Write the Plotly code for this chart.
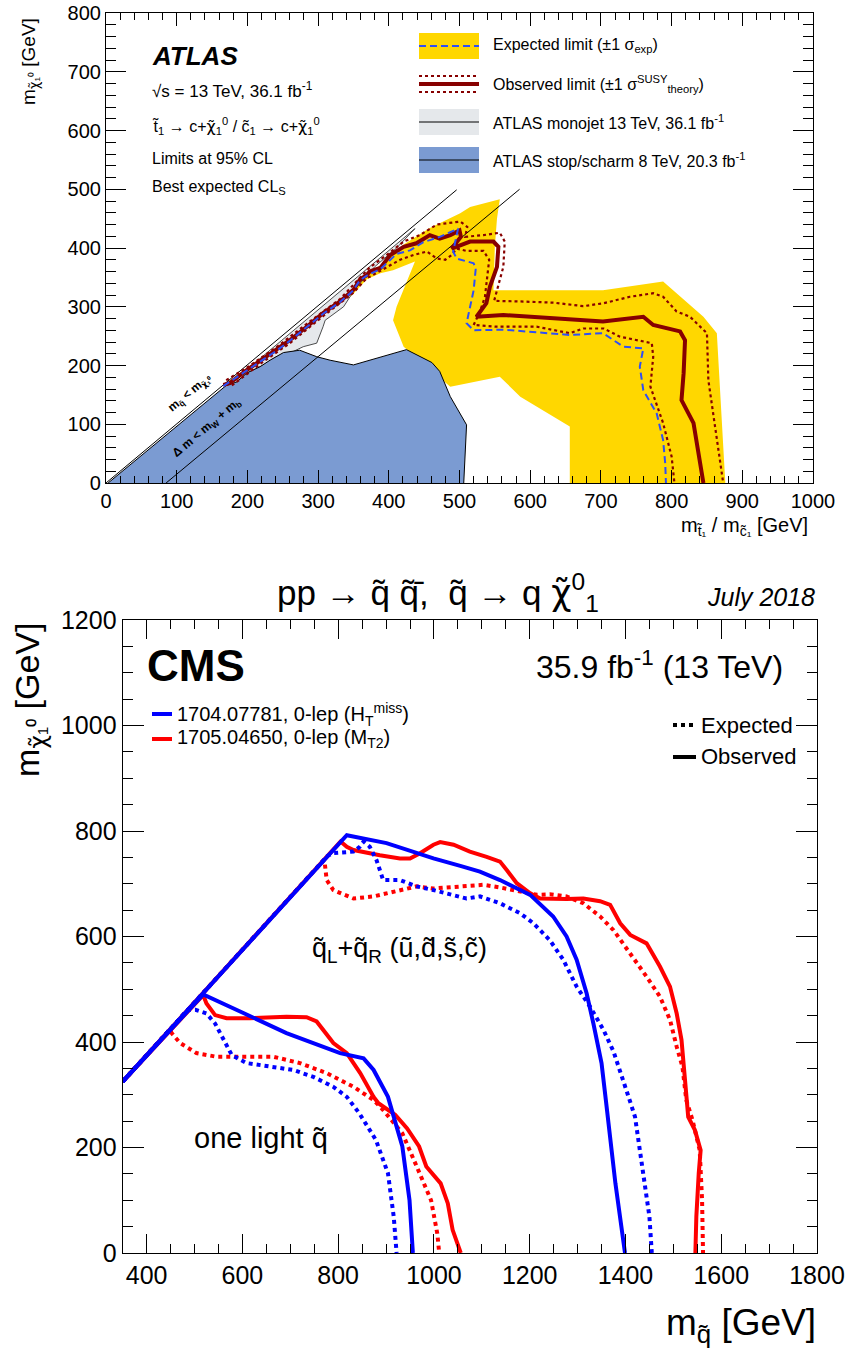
import plotly.graph_objects as go

W, H = 850, 1353
FONT = "Liberation Sans, Arial, Helvetica, sans-serif"
CHI = '<span style="font-family:DejaVu Sans">χ̃</span>'

# ---------------- ATLAS stop/scharm panel (GeV) ----------------
band_x = [656, 656, 586, 557, 487, 421, 406, 411, 437, 406, 388, 369, 350, 331, 307, 284, 260, 241, 223, 199, 170,
          170, 199, 223, 241, 260, 284, 307, 331, 350, 365, 388, 411, 421, 458, 501, 515, 557, 553, 550, 548, 609,
          703, 788, 845, 864, 871, 876]
band_y = [0, 96, 147, 181, 164, 232, 277, 300, 377, 362, 357, 347, 322, 302, 282, 260, 237, 220, 206, 186, 162,
          170, 196, 216, 230, 247, 270, 293, 313, 334, 354, 370, 396, 406, 434, 459, 470, 483, 450, 402, 328, 328,
          328, 343, 283, 255, 118, 0]

monojet_x = [8, 437, 411, 380, 355, 350, 336, 310, 307, 298, 279, 260, 241, 223, 199, 185, 100]
monojet_y = [0, 433, 400, 368, 334, 326, 300, 277, 266, 238, 232, 221, 215, 201, 187, 172, 0]

stop8_x = [3, 170, 185, 199, 218, 232, 251, 274, 298, 317, 350, 425, 461, 472, 487, 510, 506]
stop8_y = [0, 166, 172, 187, 198, 209, 222, 226, 215, 209, 201, 227, 205, 190, 147, 99, 0]

kin_x = [0, 496]
kin_y = [0, 499]
wb_x = [85, 585]
wb_y = [0, 500]

exp_x = [166, 199, 223, 241, 260, 284, 307, 331, 350, 359, 369, 388, 411, 430, 449, 472, 498, 491, 496, 520,
         523, 520, 515, 510, 520, 562, 656, 703, 718, 732, 760, 755, 760, 779, 788, 791, 792]
exp_y = [165, 191, 211, 225, 242, 265, 288, 308, 328, 345, 353, 364, 390, 396, 410, 419, 433, 394, 382, 374,
         365, 328, 300, 272, 260, 261, 252, 255, 243, 232, 229, 198, 158, 118, 73, 33, 0]

obs_x = [166, 175, 199, 223, 241, 260, 284, 307, 331, 350, 359, 369, 373, 388, 402, 421, 439, 458, 472, 487,
         500, 502, 489, 501, 515, 548, 555, 553, 543, 538, 527, 524, 562, 633, 703, 760, 774, 812, 819, 817,
         814, 831, 840, 845]
obs_y = [167, 170, 192, 212, 226, 243, 266, 289, 309, 329, 346, 354, 360, 366, 388, 402, 408, 422, 416, 422,
         430, 419, 399, 405, 411, 411, 402, 368, 334, 306, 289, 283, 286, 280, 275, 283, 269, 258, 243, 187,
         141, 102, 33, 0]

obs_up_x = [170, 200, 241, 284, 331, 360, 373, 397, 421, 444, 468, 501, 511, 508, 534, 557, 564, 562, 557,
            553, 549, 586, 633, 675, 704, 741, 774, 788, 807, 826, 850, 852, 859, 866, 873]
obs_up_y = [175, 197, 231, 271, 313, 350, 367, 388, 411, 422, 440, 445, 436, 419, 422, 426, 411, 368, 346,
            329, 310, 309, 307, 301, 306, 317, 323, 317, 292, 283, 255, 175, 119, 62, 0]

obs_dn_x = [178, 223, 260, 307, 350, 369, 373, 397, 416, 435, 454, 468, 480, 489, 496, 510, 534, 542, 539,
            536, 529, 520, 553, 609, 656, 675, 704, 727, 772, 774, 770, 788, 800, 804]
obs_dn_y = [166, 207, 238, 284, 324, 349, 351, 367, 380, 388, 394, 382, 380, 388, 399, 395, 395, 380, 346,
            317, 292, 269, 266, 266, 255, 263, 263, 249, 238, 215, 164, 102, 45, 0]

# ---------------- CMS squark panel (GeV) ----------------
b_obs_lo_x = [350, 518, 602, 692, 804, 853, 874, 904, 934, 949, 956]
b_obs_lo_y = [325, 490, 455, 417, 379, 369, 347, 296, 202, 100, 0]
b_exp_lo_x = [350, 486, 502, 525, 543, 560, 578, 609, 665, 706, 748, 790, 818, 844, 879, 904, 916, 922]
b_exp_lo_y = [325, 461, 461, 454, 435, 404, 375, 360, 353, 347, 334, 315, 296, 265, 214, 151, 69, 0]
r_obs_lo_x = [350, 518, 525, 543, 567, 616, 692, 734, 755, 790, 818, 846, 874, 884, 919, 944, 969, 984, 1014,
              1029, 1039, 1056]
r_obs_lo_y = [325, 489, 473, 451, 445, 445, 448, 447, 439, 398, 379, 341, 296, 284, 262, 236, 202, 164, 132,
              94, 44, 0]
r_exp_lo_x = [350, 448, 453, 470, 504, 546, 602, 665, 720, 776, 832, 874, 894, 934, 964, 994, 1007, 1011]
r_exp_lo_y = [325, 423, 416, 398, 379, 372, 372, 372, 360, 341, 315, 290, 271, 227, 164, 100, 37, 0]

b_obs_up_x = [350, 818, 901, 999, 1055, 1096, 1138, 1201, 1249, 1277, 1298, 1319, 1333, 1350, 1359, 1379, 1399]
b_obs_up_y = [325, 792, 777, 748, 734, 723, 707, 679, 638, 600, 556, 492, 435, 360, 290, 132, 0]
b_exp_up_x = [350, 778, 790, 832, 845, 853, 866, 880, 894, 929, 964, 999, 1068, 1096, 1138, 1180, 1208, 1242,
              1270, 1298, 1326, 1354, 1375, 1389, 1405, 1420, 1435, 1450, 1455]
b_exp_up_y = [325, 753, 758, 761, 770, 780, 770, 745, 707, 707, 695, 688, 672, 676, 663, 644, 625, 593, 556,
              505, 467, 423, 382, 341, 300, 258, 164, 69, 0]
r_obs_up_x = [350, 805, 818, 832, 887, 929, 950, 971, 999, 1013, 1041, 1075, 1110, 1138, 1152, 1173, 1201, 1222,
              1277, 1312, 1347, 1368, 1389, 1410, 1444, 1472, 1493, 1507, 1517, 1524, 1528, 1531, 1545, 1557,
              1553, 1548, 1546]
r_obs_up_y = [325, 780, 770, 764, 754, 748, 748, 758, 774, 779, 774, 761, 751, 742, 726, 701, 682, 672, 671,
              672, 667, 660, 625, 603, 587, 543, 505, 454, 404, 341, 290, 258, 233, 195, 151, 69, 0]
r_exp_up_x = [350, 770, 772, 776, 790, 832, 874, 929, 964, 999, 1068, 1103, 1138, 1180, 1215, 1242, 1277, 1312,
              1347, 1375, 1410, 1444, 1472, 1493, 1507, 1519, 1527, 1540, 1555, 1560, 1562]
r_exp_up_y = [325, 745, 739, 707, 688, 672, 676, 688, 695, 691, 695, 698, 693, 685, 679, 680, 676, 663, 638,
              612, 568, 524, 486, 442, 391, 353, 290, 252, 195, 100, 0]

YELLOW = "#ffd700"
STOP_BLUE = "#7b9bd2"
GRAY = "#e5e8eb"
DARKRED = "#870000"
EXP_BLUE = "#2f4ff5"


def px(p):
    return p / W


def py(p):
    return 1 - p / H


fig = go.Figure()

# ATLAS panel
fig.add_trace(go.Scatter(x=band_x, y=band_y, fill="toself", fillcolor=YELLOW, mode="lines",
                         line={"width": 0, "color": YELLOW}, xaxis="x", yaxis="y"))
fig.add_trace(go.Scatter(x=monojet_x, y=monojet_y, fill="toself", fillcolor=GRAY, mode="lines",
                         line={"width": 0.8, "color": "#222"}, xaxis="x", yaxis="y"))
fig.add_trace(go.Scatter(x=stop8_x, y=stop8_y, fill="toself", fillcolor=STOP_BLUE, mode="lines",
                         line={"width": 1, "color": "black"}, xaxis="x", yaxis="y"))
for lx, ly in [(kin_x, kin_y), (wb_x, wb_y)]:
    fig.add_trace(go.Scatter(x=lx, y=ly, mode="lines", line={"width": 1, "color": "black"},
                             xaxis="x", yaxis="y"))
for dx, dy in [(obs_up_x, obs_up_y), (obs_dn_x, obs_dn_y)]:
    fig.add_trace(go.Scatter(x=dx, y=dy, mode="lines", line={"width": 2.2, "color": DARKRED, "dash": "dot"},
                             xaxis="x", yaxis="y"))
fig.add_trace(go.Scatter(x=obs_x, y=obs_y, mode="lines", line={"width": 4, "color": DARKRED},
                         xaxis="x", yaxis="y"))
fig.add_trace(go.Scatter(x=exp_x, y=exp_y, mode="lines", line={"width": 2, "color": EXP_BLUE, "dash": "7px,4px"},
                         xaxis="x", yaxis="y"))

# CMS panel
for cx, cy, col, dash in [
    (r_exp_lo_x, r_exp_lo_y, "#ff0000", "dot"), (r_exp_up_x, r_exp_up_y, "#ff0000", "dot"),
    (r_obs_lo_x, r_obs_lo_y, "#ff0000", "solid"), (r_obs_up_x, r_obs_up_y, "#ff0000", "solid"),
    (b_exp_lo_x, b_exp_lo_y, "#0000ff", "dot"), (b_exp_up_x, b_exp_up_y, "#0000ff", "dot"),
    (b_obs_lo_x, b_obs_lo_y, "#0000ff", "solid"), (b_obs_up_x, b_obs_up_y, "#0000ff", "solid"),
]:
    fig.add_trace(go.Scatter(x=cx, y=cy, mode="lines", line={"width": 4, "color": col, "dash": dash},
                             xaxis="x2", yaxis="y2"))

axis_common = dict(showline=True, linecolor="black", linewidth=1.2, mirror="allticks", ticks="inside",
                   tickcolor="black", tickwidth=1.2, showgrid=False, zeroline=False, automargin=False)

fig.update_layout(
    template="none",
    width=W, height=H, margin={"l": 0, "r": 0, "t": 0, "b": 0, "pad": 0}, autosize=False,
    paper_bgcolor="white", plot_bgcolor="white", showlegend=False,
    font={"family": FONT, "color": "black"},
    xaxis=dict(axis_common, domain=[px(106), px(813)], range=[0, 1000], dtick=100, ticklen=13,
               minor={"dtick": 20, "ticklen": 7, "ticks": "inside", "tickcolor": "black"},
               tickfont={"size": 20}, anchor="y"),
    yaxis=dict(axis_common, domain=[py(483), py(13)], range=[0, 800], dtick=100, ticklen=20,
               minor={"dtick": 20, "ticklen": 10, "ticks": "inside", "tickcolor": "black"},
               tickfont={"size": 20}, anchor="x"),
    xaxis2=dict(axis_common, domain=[px(122.7), px(817)], range=[350, 1800], tick0=0, dtick=200, ticklen=19,
                minor={"dtick": 50, "ticklen": 9, "ticks": "inside", "tickcolor": "black"},
                tickfont={"size": 25}, anchor="y2"),
    yaxis2=dict(axis_common, domain=[py(1253), py(620)], range=[0, 1200], dtick=200, ticklen=21,
                minor={"dtick": 50, "ticklen": 10, "ticks": "inside", "tickcolor": "black"},
                tickfont={"size": 25}, anchor="x2"),
)

ann = []


def text(x, y, s, size, xanchor="left", yanchor="middle", angle=0, xref="paper", yref="paper"):
    ann.append(dict(x=x, y=y, text=s, showarrow=False, xref=xref, yref=yref, xanchor=xanchor,
                    yanchor=yanchor, textangle=angle, font={"size": size, "family": FONT, "color": "black"}))


# ATLAS texts
text(px(150), py(56), "<b><i>ATLAS</i></b>", 26)
text(px(150), py(90), "√s = 13 TeV, 36.1 fb<sup>-1</sup>", 17)
text(px(150), py(126), "t̃<sub>1</sub> → c+" + CHI + "<sub>1</sub><sup>0</sup> / c̃<sub>1</sub> → c+" + CHI
     + "<sub>1</sub><sup>0</sup>", 16)
text(px(150), py(158), "Limits at 95% CL", 16)
text(px(150), py(188), "Best expected CL<sub>S</sub>", 16)
text(px(30), py(62), "m<sub>" + CHI + "₁⁰</sub> [GeV]", 19, xanchor="center", angle=-90)
text(px(810), py(526), "m<sub>t̃₁</sub> / m<sub>c̃₁</sub> [GeV]", 20, xanchor="right")
text(119, 153, "<b>m<sub>q̃</sub> &lt; m<sub>" + CHI + "₁⁰</sub></b>", 12, xanchor="center", angle=-40,
     xref="x", yref="y")
text(143, 93, "<b>Δ m &lt; m<sub>W</sub> + m<sub>b</sub></b>", 12, xanchor="center", angle=-40, xref="x", yref="y")

leg_rows = [(46, "Expected limit (±1 σ<sub>exp</sub>)"),
            (84, "Observed limit (±1 σ<sup>SUSY</sup><sub>theory</sub>)"),
            (122, "ATLAS monojet 13 TeV, 36.1 fb<sup>-1</sup>"),
            (160, "ATLAS stop/scharm 8 TeV, 20.3 fb<sup>-1</sup>")]
for yy, s in leg_rows:
    text(px(491), py(yy), s, 16)

shapes = []
x0, x1 = px(419), px(479)
shapes.append(dict(type="rect", xref="paper", yref="paper", x0=x0, x1=x1, y0=py(59), y1=py(33),
                   fillcolor=YELLOW, line={"width": 0}))
shapes.append(dict(type="line", xref="paper", yref="paper", x0=x0, x1=x1, y0=py(46), y1=py(46),
                   line={"color": EXP_BLUE, "width": 2, "dash": "7px,4px"}))
shapes.append(dict(type="line", xref="paper", yref="paper", x0=x0, x1=x1, y0=py(84), y1=py(84),
                   line={"color": DARKRED, "width": 4}))
for yy in (76, 92):
    shapes.append(dict(type="line", xref="paper", yref="paper", x0=x0, x1=x1, y0=py(yy), y1=py(yy),
                       line={"color": DARKRED, "width": 2, "dash": "dot"}))
shapes.append(dict(type="rect", xref="paper", yref="paper", x0=x0, x1=x1, y0=py(135), y1=py(109),
                   fillcolor=GRAY, line={"width": 0}))
shapes.append(dict(type="line", xref="paper", yref="paper", x0=x0, x1=x1, y0=py(122), y1=py(122),
                   line={"color": "black", "width": 1}))
shapes.append(dict(type="rect", xref="paper", yref="paper", x0=x0, x1=x1, y0=py(173), y1=py(147),
                   fillcolor=STOP_BLUE, line={"width": 0}))
shapes.append(dict(type="line", xref="paper", yref="paper", x0=x0, x1=x1, y0=py(160), y1=py(160),
                   line={"color": "black", "width": 1}))

# CMS texts
text(px(438), py(593), "pp → q̃ q̃̄,  q̃ → q " + CHI + "<sup>0</sup><sub>1</sub>", 35, xanchor="center")
text(px(817), py(597), "<i>July 2018</i>", 25, xanchor="right")
text(px(145), py(665), "<b>CMS</b>", 44)
text(px(785), py(665), "35.9 fb<sup>-1</sup> (13 TeV)", 32, xanchor="right")
text(px(175), py(714), "1704.07781, 0-lep (H<sub>T</sub><sup>miss</sup>)", 20)
text(px(175), py(739), "1705.04650, 0-lep (M<sub>T2</sub>)", 20)
text(px(699), py(725), "Expected", 22)
text(px(699), py(757), "Observed", 22)
text(px(399), py(950), "q̃<sub>L</sub>+q̃<sub>R</sub> (ũ,d̃,s̃,c̃)", 27, xanchor="center")
text(px(261), py(1138), "one light q̃", 29, xanchor="center")
text(px(30), py(700), "m<sub>" + CHI + "₁⁰</sub> [GeV]", 34, xanchor="center", angle=-90)
text(px(818), py(1325), "m<sub>q̃</sub> [GeV]", 37, xanchor="right")

for yy, col in [(714, "#0000ff"), (739, "#ff0000")]:
    shapes.append(dict(type="line", xref="paper", yref="paper", x0=px(152), x1=px(172), y0=py(yy), y1=py(yy),
                       line={"color": col, "width": 4}))
shapes.append(dict(type="line", xref="paper", yref="paper", x0=px(673), x1=px(696), y0=py(725), y1=py(725),
                   line={"color": "black", "width": 4, "dash": "dot"}))
shapes.append(dict(type="line", xref="paper", yref="paper", x0=px(673), x1=px(696), y0=py(757), y1=py(757),
                   line={"color": "black", "width": 4}))

fig.update_layout(annotations=ann, shapes=shapes)
fig.write_html("out.html", config={"displayModeBar": False},
               post_script="document.body.style.margin = '0px';")
